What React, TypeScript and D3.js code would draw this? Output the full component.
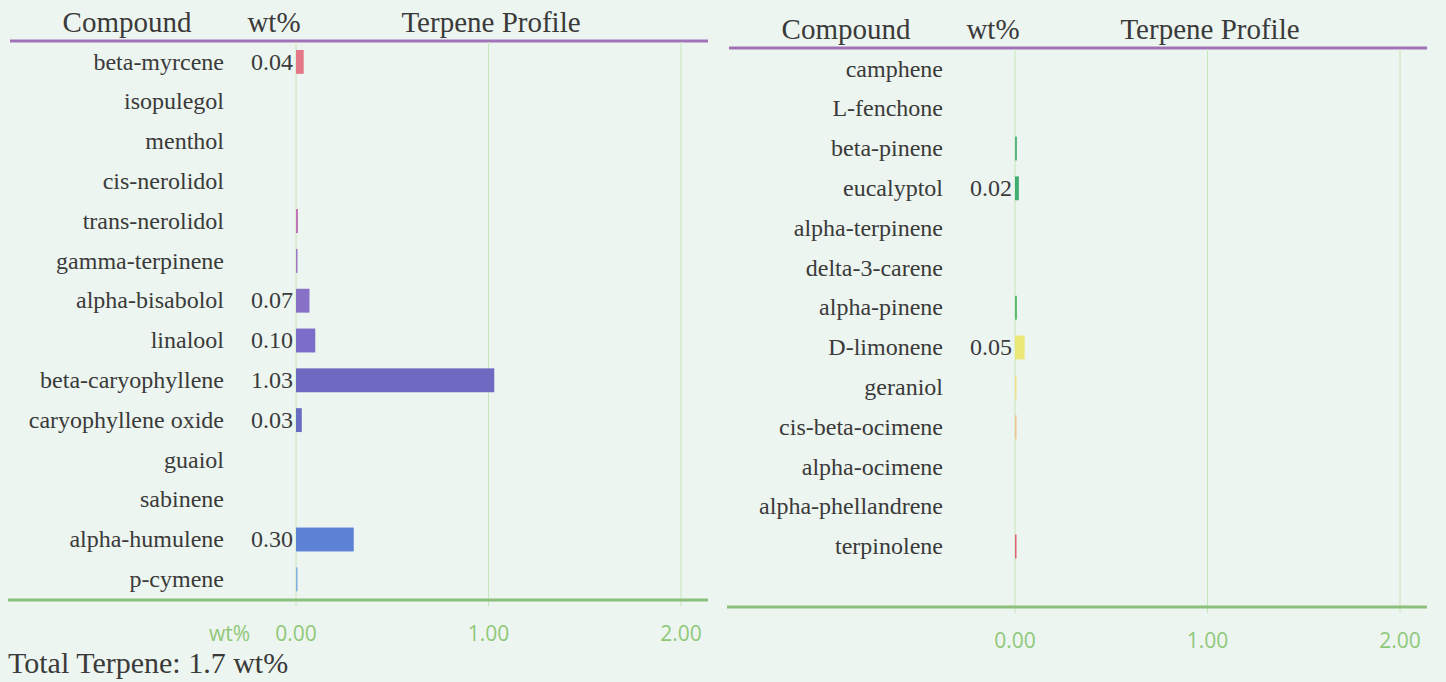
import React from "react";
import * as d3 from "d3";

// left table
const leftCompounds = [
  "beta-myrcene", "isopulegol", "menthol", "cis-nerolidol", "trans-nerolidol",
  "gamma-terpinene", "alpha-bisabolol", "linalool", "beta-caryophyllene",
  "caryophyllene oxide", "guaiol", "sabinene", "alpha-humulene", "p-cymene",
];
const leftValues = [0.04, 0, 0, 0, 0.01, 0.005, 0.07, 0.1, 1.03, 0.03, 0, 0, 0.3, 0.003];
const leftColors = [
  "#e57888", "#d874a0", "#cc72a8", "#c470b0", "#c070b4", "#9c78c4", "#8872c8",
  "#7c6ec8", "#6e6ac2", "#6a6cc2", "#6474c8", "#6079cf", "#5c82d6", "#7fb0e0",
];

// right table
const rightCompounds = [
  "camphene", "L-fenchone", "beta-pinene", "eucalyptol", "alpha-terpinene",
  "delta-3-carene", "alpha-pinene", "D-limonene", "geraniol", "cis-beta-ocimene",
  "alpha-ocimene", "alpha-phellandrene", "terpinolene",
];
const rightValues = [0, 0, 0.01, 0.02, 0, 0, 0.01, 0.05, 0.004, 0.004, 0, 0, 0.004];
const rightColors = [
  "#4fb890", "#4cb888", "#52b47e", "#3fae70", "#48b470", "#50b870", "#58b86c",
  "#ece878", "#f2e08c", "#f0c48a", "#f0a080", "#e88078", "#e06070",
];

const ticks = [0, 1, 2];
const totalTerpene = 1.7;
const labelMin = 0.015;

const serif = "'Liberation Serif', 'Times New Roman', serif";
const sans = "'Open Sans', sans-serif";
const textCol = "#3a3a3a";
const gridCol = "#c6e6bc";
const tickCol = "#8fc879";

const step = 39.8;
const fmt = d3.format(".2f");

type PanelProps = {
  names: string[];
  values: number[];
  colors: string[];
  dx: number;
  dy: number;
  unitLabel: boolean;
};

function Panel({ names, values, colors, dx, dy, unitLabel }: PanelProps) {
  const top = 42;
  const bottom = 600;
  const x = d3.scaleLinear().domain([0, 2]).range([296, 681]);
  const y = d3.scaleBand<string>()
    .domain(names)
    .range([top, top + names.length * step])
    .paddingInner(0.4)
    .paddingOuter(0.2);
  const labelRight = 224;
  const valueRight = 293;

  return (
    <g transform={`translate(${dx},${dy})`}>
      {/* headers */}
      <text x={127} y={32} textAnchor="middle" fontFamily={serif} fontSize={29} fill={textCol}>Compound</text>
      <text x={274} y={32} textAnchor="middle" fontFamily={serif} fontSize={29} fill={textCol}>wt%</text>
      <text x={491} y={32} textAnchor="middle" fontFamily={serif} fontSize={29} fill={textCol}>Terpene Profile</text>
      <line x1={10} x2={708} y1={top - 1} y2={top - 1} stroke="#a272b6" strokeWidth={3} />

      {/* grid */}
      {ticks.map((t) => (
        <line key={t} x1={x(t)} x2={x(t)} y1={top} y2={bottom + 6} stroke={gridCol} strokeWidth={1} />
      ))}

      {/* rows */}
      {names.map((n, i) => {
        const cy = (y(n) as number) + y.bandwidth() / 2;
        const v = values[i];
        return (
          <g key={n}>
            <text x={labelRight} y={cy} dy="0.32em" textAnchor="end" fontFamily={serif} fontSize={24} fill={textCol}>{n}</text>
            {v >= labelMin && (
              <text x={valueRight} y={cy} dy="0.32em" textAnchor="end" fontFamily={serif} fontSize={24} fill={textCol}>{fmt(v)}</text>
            )}
            {v > 0 && (
              <rect x={x(0)} y={y(n)} width={Math.max(1.5, x(v) - x(0))} height={y.bandwidth()} fill={colors[i]} />
            )}
          </g>
        );
      })}

      {/* axis */}
      <line x1={8} x2={708} y1={bottom} y2={bottom} stroke="#8cbf7a" strokeWidth={3} />
      {ticks.map((t) => (
        <text key={t} x={x(t)} y={bottom + 41} textAnchor="middle" fontFamily={sans} fontSize={21} fill={tickCol}>{fmt(t)}</text>
      ))}
      {unitLabel && (
        <text x={250} y={bottom + 41} textAnchor="end" fontFamily={sans} fontSize={21} fill={tickCol}>wt%</text>
      )}
    </g>
  );
}

export default function App() {
  return (
    <svg width={1446} height={682} style={{ position: "absolute", left: 0, top: 0, background: "#edf5f0" }}>
      <rect width={1446} height={682} fill="#edf5f0" />
      <Panel names={leftCompounds} values={leftValues} colors={leftColors} dx={0} dy={0} unitLabel={true} />
      <Panel names={rightCompounds} values={rightValues} colors={rightColors} dx={719} dy={7} unitLabel={false} />
      <text x={8} y={673} fontFamily={serif} fontSize={30} fill={textCol}>
        {`Total Terpene: ${totalTerpene} wt%`}
      </text>
    </svg>
  );
}
